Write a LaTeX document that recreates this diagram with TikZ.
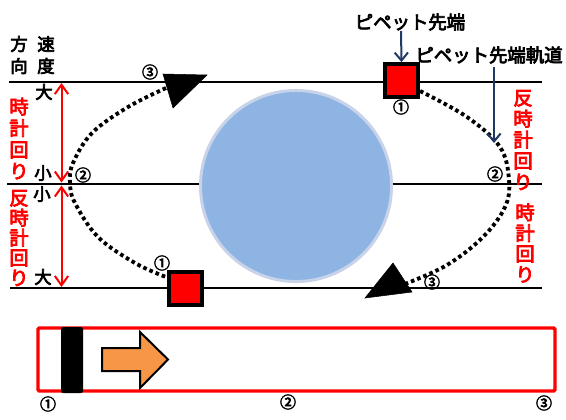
\documentclass[tikz,border=0pt]{standalone}
\usepackage{fontspec}
\newfontfamily\cjkb[FakeBold=4]{Noto Sans CJK JP}
\usetikzlibrary{arrows.meta}
\definecolor{navyarrow}{RGB}{31,56,100}
\definecolor{ballfill}{RGB}{142,180,227}
\definecolor{ballrim}{RGB}{200,210,232}
\definecolor{orangearr}{RGB}{247,150,70}
\tikzset{
  guide/.style={line width=1.5pt},
  dotpath/.style={line width=2.9pt, dash pattern=on 2.7pt off 2.3pt},
  sqbox/.style={draw=black, fill=red, line width=2.6pt, inner sep=0pt, minimum size=25pt},
  redlbl/.style={text=red, align=center, inner sep=0pt},
  blklbl/.style={text=black, inner sep=0pt, font=\cjkb\fontsize{13}{14}\selectfont},
  toplbl/.style={text=black, inner sep=0pt, font=\cjkb\fontsize{13.8}{15}\selectfont},
  num/.style={inner sep=0pt, font=\cjkb\fontsize{12}{13}\selectfont},
  navyarr/.style={draw=navyarrow, line width=1.5pt, -{Straight Barb[length=6pt,width=10pt]}},
  redarr/.style={draw=red, line width=1.5pt, {Straight Barb[length=7pt,width=10pt]}-{Straight Barb[length=7pt,width=10pt]}},
  tri/.style={fill=black}
}
\begin{document}
\begin{tikzpicture}[x=0.75pt,y=-0.75pt]
\useasboundingbox (0,0) rectangle (566,419);

% horizontal guide lines
\coordinate (l1a) at (9,81.5);   \coordinate (l1b) at (542,81.5);
\coordinate (l2a) at (7,183.5);  \coordinate (l2b) at (542,183.5);
\coordinate (l3a) at (10,288);   \coordinate (l3b) at (542,288);
\draw[guide] (l1a) -- (l1b);
\draw[guide] (l2a) -- (l2b);
\draw[guide] (l3a) -- (l3b);

% dotted trajectory
\draw[dotpath] plot[smooth, tension=0.6] coordinates {(166,88) (128,107) (92,133) (73,163) (70,183) (75,203) (98,237) (135,263) (166,277)};
\draw[dotpath] plot[smooth, tension=0.6] coordinates {(420,91) (467,117) (500,147) (509,180) (505,207) (483,237) (447,265) (405,284)};

% blue ball
\node[circle, draw=ballrim, fill=ballfill, line width=2.25pt, minimum size=143.3pt, inner sep=0pt] (ball) at (296,186) {};

% pipette squares
\node[sqbox] (sqT) at (401.5,80.5) {};
\node[sqbox] (sqB) at (185.5,288.5) {};

% direction triangles
\draw[tri] (163,74) -- (207,75) -- (173,108) -- cycle;
\draw[tri] (393,263) -- (412,292) -- (365,298) -- cycle;

% header labels
\node[blklbl] (hd1) at (19,44) {方};
\node[blklbl] (hd2) at (19,66) {向};
\node[blklbl] (hd3) at (46,44) {速};
\node[blklbl] (hd4) at (46,66) {度};
\node[blklbl] (big1) at (44,92) {大};
\node[blklbl] (sm1) at (43,173) {小};
\node[blklbl] (sm2) at (42,194) {小};
\node[blklbl] (big2) at (43,277) {大};

% red rotation labels
\node[redlbl, font=\cjkb\fontsize{14.5}{16.1}\selectfont] (rl1) at (19,138.5) {時\\計\\回\\り};
\node[redlbl, font=\cjkb\fontsize{14.5}{15}\selectfont] (rl2) at (19,238) {反\\時\\計\\回\\り};
\node[redlbl, font=\cjkb\fontsize{14.5}{15.75}\selectfont] (rr1) at (523,140) {反\\時\\計\\回\\り};
\node[redlbl, font=\cjkb\fontsize{14.5}{15.5}\selectfont] (rr2) at (525,243) {時\\計\\回\\り};

% red double arrows
\coordinate (ra1) at (61.5,83);  \coordinate (ra2) at (61.5,182.5);
\coordinate (ra3) at (61.5,185.5); \coordinate (ra4) at (61.5,287);
\draw[redarr] (ra1) -- (ra2);
\draw[redarr] (ra3) -- (ra4);

% pipette labels and arrows
\node[toplbl] (lbA) at (410,22) {ピペット先端};
\node[toplbl] (lbB) at (489,55) {ピペット先端軌道};
\coordinate (tipA) at (401,31);
\coordinate (tipB) at (494,67);
\coordinate (trk) at (494,143);
\draw[navyarr] (tipA) -- (sqT.north);
\draw[navyarr] (tipB) -- (trk);

% circled numbers on trajectory
\node[num] (n3a) at (150,72) {③};
\node[num] (n1a) at (401,107) {①};
\node[num] (n2a) at (83,175) {②};
\node[num] (n2b) at (495,174) {②};
\node[num] (n1b) at (162,263) {①};
\node[num] (n3b) at (432,282) {③};

% bottom bar
\draw[red, line width=2.6pt, rounded corners=1pt] (38,328) rectangle (555,391);
\fill[black, rounded corners=1.5pt] (61,327) rectangle (83,393);
\draw[fill=orangearr, line width=1.5pt] (102,348) -- (140,348) -- (140,332) -- (168,359.5) -- (140,388) -- (140,371) -- (102,371) -- cycle;
\node[num] (b1) at (48,404) {①};
\node[num] (b2) at (288,402) {②};
\node[num] (b3) at (544,403) {③};
\end{tikzpicture}
\end{document}
